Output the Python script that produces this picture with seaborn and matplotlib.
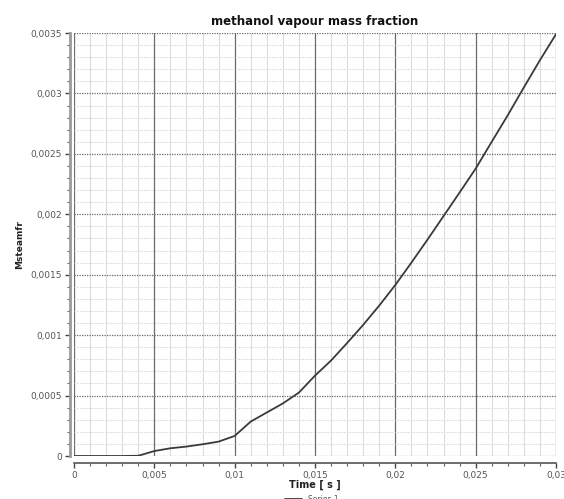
import matplotlib
matplotlib.use("Agg")
import matplotlib.pyplot as plt
from matplotlib.ticker import MultipleLocator, FuncFormatter
import seaborn as sns
import pandas as pd

# Data
time_s = [0.0, 0.001, 0.002, 0.003, 0.004, 0.005, 0.006, 0.007, 0.008, 0.009,
          0.010, 0.011, 0.012, 0.013, 0.014, 0.015, 0.016, 0.017, 0.018, 0.019,
          0.020, 0.021, 0.022, 0.023, 0.024, 0.025, 0.026, 0.027, 0.028, 0.029, 0.030]
msteamfr = [0.0, 0.0, 0.0, 0.0, 0.000002, 0.000041, 0.000064, 0.000078, 0.000097, 0.000119,
            0.000166, 0.000285, 0.000360, 0.000435, 0.000525, 0.000665, 0.000790, 0.000935, 0.001085, 0.001245,
            0.001415, 0.001600, 0.001790, 0.001985, 0.002180, 0.002378, 0.002600, 0.002820, 0.003050, 0.003275, 0.003490]
series_name = "Series 1"
title = "methanol vapour mass fraction"
x_label = "Time [ s ]"
y_label = "Msteamfr"

df = pd.DataFrame({"time": time_s, "frac": msteamfr})

sns.set_style("white")
plt.rcParams["font.family"] = ["DejaVu Sans"]

fig = plt.figure(figsize=(5.64, 4.99), dpi=100)
ax = fig.add_axes([74 / 564, 1 - 456 / 499, (556 - 74) / 564, (456 - 33) / 499])

sns.lineplot(data=df, x="time", y="frac", ax=ax, color="#3a3a3a", linewidth=1.3,
             label=series_name, legend=False, zorder=5)

ax.set_xlim(0, 0.03)
ax.set_ylim(0, 0.0035)

ax.xaxis.set_major_locator(MultipleLocator(0.005))
ax.xaxis.set_minor_locator(MultipleLocator(0.001))
ax.yaxis.set_major_locator(MultipleLocator(0.0005))
ax.yaxis.set_minor_locator(MultipleLocator(0.0001))

fmt = FuncFormatter(lambda v, p: f"{v:g}".replace(".", ","))
ax.xaxis.set_major_formatter(fmt)
ax.yaxis.set_major_formatter(fmt)

ax.set_axisbelow(True)
ax.grid(which="minor", axis="x", color="#dcdcdc", linewidth=0.8, linestyle="-")
ax.grid(which="minor", axis="y", color="#dcdcdc", linewidth=0.8, linestyle=(0, (1.5, 1)))
ax.grid(which="major", axis="x", color="#6a6a6a", linewidth=0.9, linestyle="-")
ax.grid(which="major", axis="y", color="#6a6a6a", linewidth=0.9, linestyle=(0, (1, 1)))

for s in ["top", "right"]:
    ax.spines[s].set_visible(False)
ax.spines["bottom"].set_position(("outward", 5))
ax.spines["left"].set_position(("outward", 3))
ax.spines["bottom"].set_color("#555555")
ax.spines["left"].set_color("#9a9a9a")
ax.spines["left"].set_linewidth(2.0)
ax.spines["bottom"].set_linewidth(1.2)

ax.tick_params(which="major", direction="out", length=3.5, width=1, color="#444444",
               labelsize=6.5, labelcolor="#555555", pad=2, left=True, bottom=True)
ax.tick_params(which="minor", direction="out", length=2, width=0.8, color="#666666",
               left=True, bottom=True)

ax.set_title(title, fontsize=8.5, fontweight="bold", pad=6, color="#111111")
ax.set_xlabel(x_label, fontsize=7, fontweight="bold", labelpad=0, color="#222222")
ax.set_ylabel(y_label, fontsize=6.5, fontweight="bold", labelpad=5, color="#222222")

handles, labels = ax.get_legend_handles_labels()
fig.legend(handles, labels, loc="upper center", bbox_to_anchor=(312 / 564, 1 - 488 / 499),
           frameon=False, fontsize=5.5, handlelength=2.2, labelcolor="#555555")

fig.savefig("out.png", dpi=100)
